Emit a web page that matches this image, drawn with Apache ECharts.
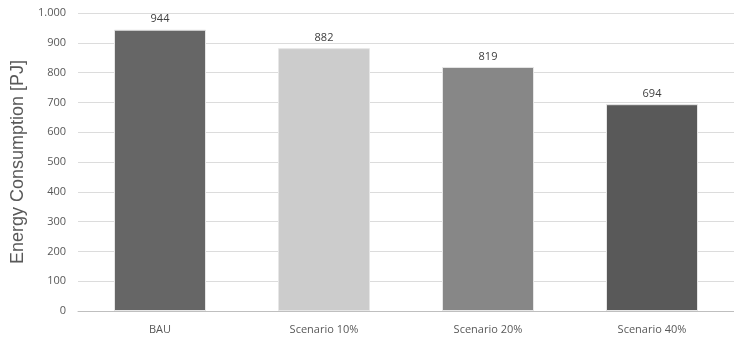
<!DOCTYPE html>
<html>
<head>
<meta charset="utf-8">
<script src="https://cdn.jsdelivr.net/npm/echarts@6/dist/echarts.min.js"></script>
<style>
  html, body { margin: 0; padding: 0; background: #fff; }
  #chart { width: 734px; height: 342px; }
</style>
</head>
<body>
<div id="chart"></div>
<script>
// Scenario names and energy consumption per scenario (PJ)
const categories = ['BAU', 'Scenario 10%', 'Scenario 20%', 'Scenario 40%'];
const consumption = [944, 882, 819, 694];
const barColors = ['#666666', '#cccccc', '#878787', '#595959'];
const yTicks = { min: 0, max: 1000, interval: 100 };
const yTitle = 'Energy Consumption [PJ]';

const chart = echarts.init(document.getElementById('chart'));

chart.setOption({
  animation: false,
  grid: { left: 78, right: 0, top: 13, bottom: 31 },
  xAxis: {
    type: 'category',
    data: categories,
    axisTick: { show: false },
    axisLine: { lineStyle: { color: '#bfbfbf', width: 1 } },
    axisLabel: { color: '#595959', fontSize: 11, fontFamily: 'Open Sans', margin: 13 }
  },
  yAxis: {
    type: 'value',
    min: yTicks.min,
    max: yTicks.max,
    interval: yTicks.interval,
    name: yTitle,
    nameLocation: 'middle',
    nameGap: 51,
    nameTextStyle: { color: '#595959', fontSize: 18, fontFamily: 'Liberation Sans' },
    axisLine: { show: false },
    axisTick: { show: false },
    axisLabel: {
      color: '#595959', fontSize: 11, fontFamily: 'Open Sans', margin: 12,
      formatter: v => v >= 1000 ? String(v).replace(/(\d)(?=(\d{3})+$)/, '$1.') : String(v)
    },
    splitLine: { lineStyle: { color: '#dcdcdc', width: 1 } }
  },
  series: [{
    type: 'bar',
    data: consumption.map((v, i) => ({ value: v, itemStyle: { color: barColors[i] } })),
    barWidth: 92,
    itemStyle: { borderColor: '#e6e6e6', borderWidth: 1 },
    label: {
      show: true, position: 'top', distance: 5,
      color: '#404040', fontSize: 11, fontFamily: 'Open Sans'
    }
  }]
});
</script>
</body>
</html>
